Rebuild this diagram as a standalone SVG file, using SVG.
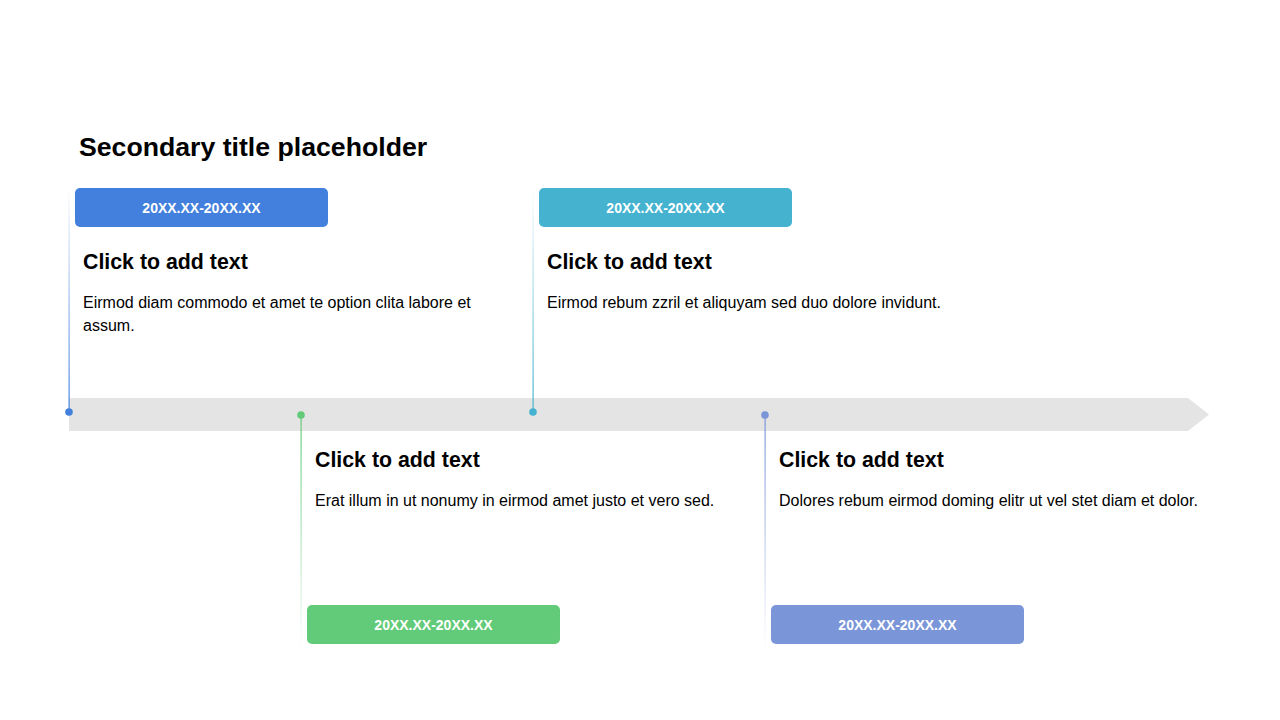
<svg xmlns="http://www.w3.org/2000/svg" width="1280" height="720" viewBox="0 0 1280 720">
<style>
.title{font-family:"Liberation Sans",Arial,sans-serif;font-weight:bold;font-size:26.67px;fill:#000}
.head{font-family:"Liberation Sans",Arial,sans-serif;font-weight:bold;font-size:21.33px;fill:#000}
.body{font-family:"Liberation Sans",Arial,sans-serif;font-size:16px;fill:#000}
.badge{font-family:"Liberation Sans",Arial,sans-serif;font-weight:bold;font-size:14px;fill:#fff;text-anchor:middle}
</style>
<defs>
<linearGradient id="gUpBlue" x1="0" y1="0" x2="0" y2="1"><stop offset="0" stop-color="#4380DD" stop-opacity="0"/><stop offset="1" stop-color="#4380DD"/></linearGradient>
<linearGradient id="gUpTeal" x1="0" y1="0" x2="0" y2="1"><stop offset="0" stop-color="#45B3CF" stop-opacity="0"/><stop offset="1" stop-color="#45B3CF"/></linearGradient>
<linearGradient id="gDnGreen" x1="0" y1="0" x2="0" y2="1"><stop offset="0" stop-color="#62CB79"/><stop offset="1" stop-color="#62CB79" stop-opacity="0"/></linearGradient>
<linearGradient id="gDnPeri" x1="0" y1="0" x2="0" y2="1"><stop offset="0" stop-color="#7B96D8"/><stop offset="1" stop-color="#7B96D8" stop-opacity="0"/></linearGradient>
</defs>
<rect width="1280" height="720" fill="#fff"/>
<text class="title" x="79" y="156">Secondary title placeholder</text>
<g id="timeline">
<polygon points="69,398 1188,398 1209,414.5 1188,431 69,431" fill="#E4E4E4"/>
</g>
<g id="connectors">
<rect x="68.5" y="186" width="1.2" height="226" fill="url(#gUpBlue)"/>
<rect x="532.5" y="186" width="1.2" height="226" fill="url(#gUpTeal)"/>
<rect x="300.5" y="415" width="1.2" height="235" fill="url(#gDnGreen)"/>
<rect x="764.5" y="415" width="1.2" height="235" fill="url(#gDnPeri)"/>
<circle cx="69" cy="412" r="3.8" fill="#4380DD"/>
<circle cx="533" cy="412" r="3.8" fill="#45B3CF"/>
<circle cx="301" cy="415" r="3.8" fill="#62CB79"/>
<circle cx="765" cy="415" r="3.8" fill="#7B96D8"/>
</g>
<g id="node1">
<rect x="75" y="188" width="253" height="39" rx="5" fill="#4380DD"/>
<text class="badge" x="201.5" y="213">20XX.XX-20XX.XX</text>
<text class="head" x="83" y="269">Click to add text</text>
<text class="body" x="83" y="308">Eirmod diam commodo et amet te option clita labore et</text>
<text class="body" x="83" y="331">assum.</text>
</g>
<g id="node2">
<rect x="307" y="605" width="253" height="39" rx="5" fill="#62CB79"/>
<text class="badge" x="433.5" y="630">20XX.XX-20XX.XX</text>
<text class="head" x="315" y="467">Click to add text</text>
<text class="body" x="315" y="506">Erat illum in ut nonumy in eirmod amet justo et vero sed.</text>
</g>
<g id="node3">
<rect x="539" y="188" width="253" height="39" rx="5" fill="#45B3CF"/>
<text class="badge" x="665.5" y="213">20XX.XX-20XX.XX</text>
<text class="head" x="547" y="269">Click to add text</text>
<text class="body" x="547" y="308">Eirmod rebum zzril et aliquyam sed duo dolore invidunt.</text>
</g>
<g id="node4">
<rect x="771" y="605" width="253" height="39" rx="5" fill="#7B96D8"/>
<text class="badge" x="897.5" y="630">20XX.XX-20XX.XX</text>
<text class="head" x="779" y="467">Click to add text</text>
<text class="body" x="779" y="506">Dolores rebum eirmod doming elitr ut vel stet diam et dolor.</text>
</g>
</svg>
